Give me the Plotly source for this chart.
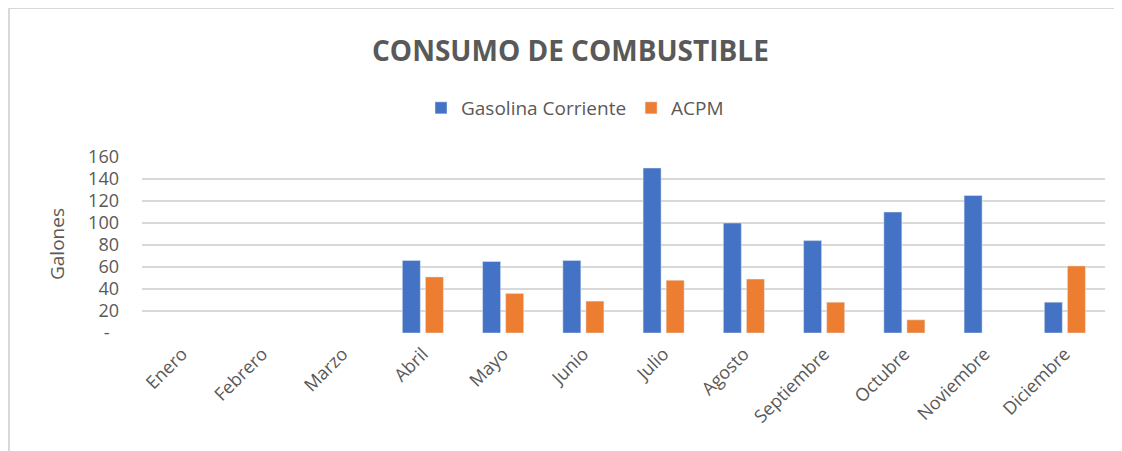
import plotly.graph_objects as go

# Monthly fuel consumption (gallons)
meses = ["Enero", "Febrero", "Marzo", "Abril", "Mayo", "Junio", "Julio",
         "Agosto", "Septiembre", "Octubre", "Noviembre", "Diciembre"]
gasolina = [None, None, None, 66, 65, 66, 150, 100, 84, 110, 125, 28]
acpm = [None, None, None, 51, 36, 29, 48, 49, 28, 12, None, 61]
y_ticks = [0, 20, 40, 60, 80, 100, 120, 140, 160]
y_ticktext = ["-\u00a0\u00a0", "20", "40", "60", "80", "100", "120", "140", "160"]

OFF = 8  # page body margin
W, H = 1122 - OFF, 451 - OFF
L, T = 142 - OFF, 157 - OFF
R = W - (1105 - OFF)
B = H - (333 - OFF)
FONT = "Open Sans"
GRAY = "#595959"


# reference pixel -> paper helpers
def px(x):
    return (x - OFF - L) / (W - L - R)


def py(y):
    return (H - B - (y - OFF)) / (H - T - B)


fig = go.Figure()
fig.add_trace(go.Bar(x=meses, y=gasolina, name="Gasolina Corriente",
                     marker=dict(color="#4472C4")))
fig.add_trace(go.Bar(x=meses, y=acpm, name="ACPM",
                     marker=dict(color="#ED7D31")))

fig.update_layout(
    width=W, height=H,
    margin=dict(l=L, r=R, t=T, b=B),
    paper_bgcolor="white",
    plot_bgcolor="white",
    barmode="group",
    bargap=0.425,
    bargroupgap=0.22,
    font=dict(family=FONT, color=GRAY),
    showlegend=True,
    legend=dict(orientation="h", x=px(575), y=py(108), xanchor="center", yanchor="middle",
                font=dict(size=19, color=GRAY), itemwidth=30, traceorder="normal"),
    xaxis=dict(range=[-0.5, 11.5], tickangle=-45, showgrid=False, zeroline=False,
               showline=False, ticks="", ticklabelstandoff=6,
               tickfont=dict(size=18, color=GRAY)),
    yaxis=dict(range=[0, 160], tickvals=y_ticks, ticktext=y_ticktext,
               showgrid=True, gridcolor="#d9d9d9", gridwidth=1.5, zeroline=False,
               showline=False, ticks="", ticklabelstandoff=22,
               tickfont=dict(size=18, color=GRAY)),
    annotations=[
        dict(text="<b>CONSUMO DE COMBUSTIBLE</b>", x=px(570), y=py(50), xref="paper", yref="paper",
             showarrow=False, xanchor="center", yanchor="middle",
             font=dict(size=28, color=GRAY, family=FONT)),
        dict(text="Galones", x=px(57), y=py(244), xref="paper", yref="paper",
             showarrow=False, xanchor="center", yanchor="middle", textangle=-90,
             font=dict(size=19, color=GRAY, family=FONT)),
    ],
    shapes=[
        dict(type="rect", xref="paper", yref="paper", x0=px(9), x1=px(1117), y0=py(470), y1=py(8),
             line=dict(color="#d9d9d9", width=2), layer="below"),
    ],
)

fig.write_html("out.html")
